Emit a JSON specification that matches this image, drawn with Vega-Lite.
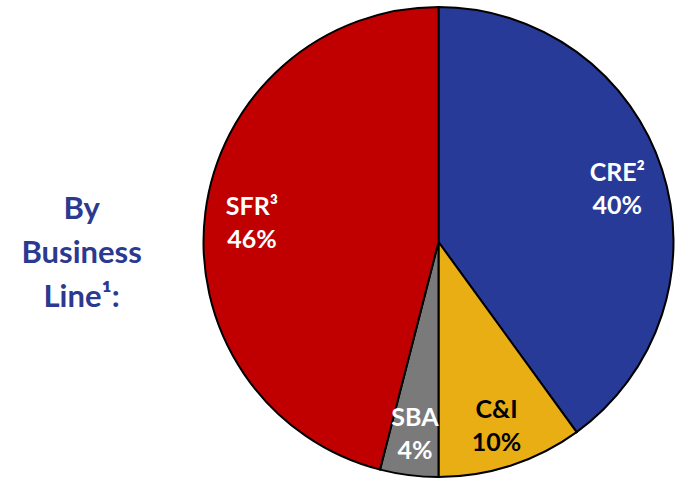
{
  "$schema": "https://vega.github.io/schema/vega-lite/v6.json",
  "autosize": {"type": "none"},
  "width": 485,
  "height": 474,
  "padding": {"left": 196, "top": 5, "right": 0, "bottom": 0},
  "background": "white",
  "title": {
    "text": ["By", "Business", "Line¹:"],
    "orient": "left",
    "anchor": "middle",
    "angle": 0,
    "align": "center",
    "baseline": "middle",
    "frame": "group",
    "offset": -6,
    "dy": -32,
    "font": "Lato",
    "fontSize": 31,
    "fontWeight": "bold",
    "lineHeight": 44,
    "color": "#2B3990"
  },
  "data": {
    "values": [
      {"idx": 1, "category": "CRE", "value": 40, "label": "CRE²\n40%"},
      {"idx": 2, "category": "C&I", "value": 10, "label": "C&I\n10%"},
      {"idx": 3, "category": "SBA", "value": 4, "label": "SBA\n4%"},
      {"idx": 4, "category": "SFR", "value": 46, "label": "SFR³\n46%"}
    ]
  },
  "encoding": {
    "theta": {"field": "value", "type": "quantitative", "stack": true},
    "order": {"field": "idx", "type": "quantitative", "sort": "ascending"}
  },
  "layer": [
    {
      "mark": {"type": "arc", "outerRadius": 235, "stroke": "black", "strokeWidth": 2},
      "encoding": {
        "color": {
          "field": "category",
          "type": "nominal",
          "scale": {"domain": ["CRE", "C&I", "SBA", "SFR"], "range": ["#283A97", "#E8AE14", "#7A7A7A", "#C00000"]},
          "legend": null
        }
      }
    },
    {
      "mark": {"type": "text", "radius": 188, "dy": -11, "font": "Lato", "fontSize": 25, "fontWeight": "bold", "lineBreak": "\n", "lineHeight": 33, "align": "center", "baseline": "middle"},
      "encoding": {
        "text": {"field": "label", "type": "nominal"},
        "color": {"condition": {"test": "datum.category === 'C&I'", "value": "black"}, "value": "white"}
      }
    }
  ]
}
